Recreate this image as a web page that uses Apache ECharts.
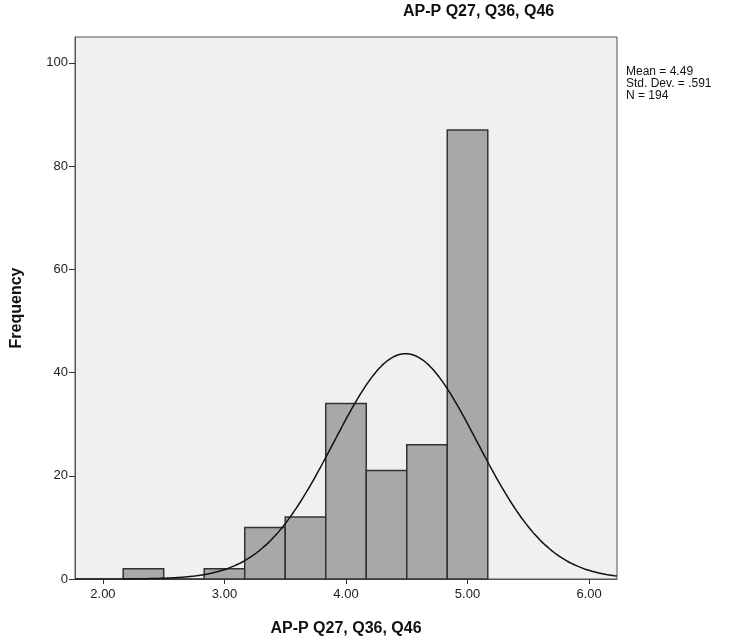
<!DOCTYPE html>
<html>
<head>
<meta charset="utf-8">
<script src="https://cdn.jsdelivr.net/npm/echarts@6/dist/echarts.min.js"></script>
<style>
  html, body { margin: 0; padding: 0; background: #fff; }
  #chart { width: 729px; height: 643px; }
</style>
</head>
<body>
<div id="chart"></div>
<script>
// histogram bins (width 1/3) and their frequencies
var binCenters = [2.3333, 2.6667, 3.0, 3.3333, 3.6667, 4.0, 4.3333, 4.6667, 5.0];
var counts = [2, 0, 2, 10, 12, 34, 21, 26, 87];
var binWidth = 1 / 3;

// summary stats printed beside the chart
var mean = 4.49;
var stdDev = 0.591;
var n = 194;

var xTicks = [2, 3, 4, 5, 6];
var yTicks = [0, 20, 40, 60, 80, 100];
var xMin = 1.77, xMax = 6.23;

var bars = binCenters.map(function (c, i) {
    return [c - binWidth / 2, c + binWidth / 2, counts[i]];
});

// fitted normal curve, scaled to the histogram (N * bin width)
var curve = [];
for (var x = xMin; x <= xMax + 1e-9; x += 0.02) {
    var z = (x - mean) / stdDev;
    var y = n * binWidth * Math.exp(-0.5 * z * z) / (stdDev * Math.sqrt(2 * Math.PI));
    curve.push([x, y]);
}

var chart = echarts.init(document.getElementById("chart"));
chart.setOption({
    animation: false,
    textStyle: { fontFamily: "Liberation Sans, Arial, sans-serif" },
    grid: {
        left: 75, right: 112, top: 37, bottom: 64,
        show: true,
        backgroundColor: "#f0f0f0",
        borderColor: "#555",
        borderWidth: 1
    },
    xAxis: {
        type: "value",
        min: xMin,
        max: xMax,
        name: "AP-P Q27, Q36, Q46",
        nameLocation: "middle",
        nameGap: 42,
        nameTextStyle: { fontSize: 16, fontWeight: "bold", color: "#111" },
        axisLine: { show: true, lineStyle: { color: "#555" } },
        axisTick: { show: true, length: 5, customValues: xTicks, lineStyle: { color: "#333" } },
        axisLabel: {
            customValues: xTicks,
            color: "#222",
            fontSize: 13,
            margin: 9,
            formatter: function (v) { return v.toFixed(2); }
        },
        splitLine: { show: false }
    },
    yAxis: {
        type: "value",
        min: 0,
        max: 105,
        name: "Frequency",
        nameLocation: "middle",
        nameGap: 50,
        nameTextStyle: { fontSize: 16, fontWeight: "bold", color: "#111" },
        axisLine: { show: true, lineStyle: { color: "#555" } },
        axisTick: { show: true, length: 6, customValues: yTicks, lineStyle: { color: "#333" } },
        axisLabel: { customValues: yTicks, color: "#222", fontSize: 13, margin: 7 },
        splitLine: { show: false }
    },
    graphic: [
        {
            type: "text",
            left: 403,
            top: 4,
            style: {
                text: "AP-P Q27, Q36, Q46",
                font: "bold 16px Liberation Sans, Arial, sans-serif",
                fill: "#111",
                textAlign: "center"
            }
        },
        {
            type: "text",
            left: 626,
            top: 66,
            style: {
                text: "Mean = " + mean + "\nStd. Dev. = ." + Math.round(stdDev * 1000) + "\nN = " + n,
                font: "12px Liberation Sans, Arial, sans-serif",
                lineHeight: 12,
                fill: "#111"
            }
        }
    ],
    series: [
        {
            type: "custom",
            data: bars,
            encode: { x: [0, 1], y: 2 },
            renderItem: function (params, api) {
                var p0 = api.coord([api.value(0), 0]);
                var p1 = api.coord([api.value(1), api.value(2)]);
                return {
                    type: "rect",
                    shape: { x: p0[0], y: p1[1], width: p1[0] - p0[0], height: p0[1] - p1[1] },
                    style: { fill: "#a8a8a8", stroke: "#333", lineWidth: 1.5 }
                };
            }
        },
        {
            type: "line",
            data: curve,
            showSymbol: false,
            smooth: true,
            lineStyle: { color: "#111", width: 1.5 },
            z: 5
        }
    ]
});
</script>
</body>
</html>
